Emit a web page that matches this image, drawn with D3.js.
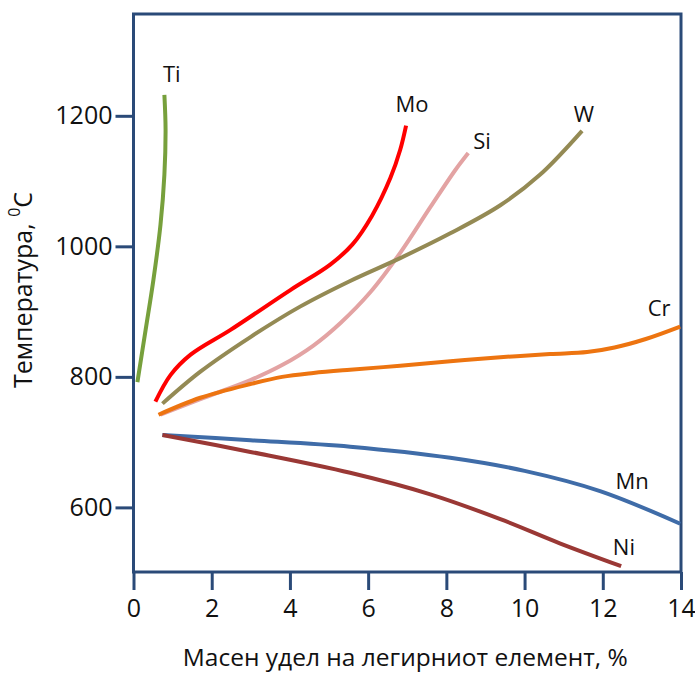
<!DOCTYPE html>
<html>
<head>
<meta charset="utf-8">
<script src="https://cdn.jsdelivr.net/npm/d3@7"></script>
<style>
body { margin:0; background:#fff; }
svg text { font-family:'Open Sans', sans-serif; fill:#111; }
</style>
</head>
<body>
<div id="chart"></div>
<script>
// alloying element mass fraction (%) vs temperature (C)
var elements = ['Ti','Mo','Si','W','Cr','Mn','Ni']
var colors = ['#77a03c','#ff0000','#e3a3a3','#948a54','#ed7410','#3f6ca8','#9a3835']
var tiPts = [[0.10,792],[0.31,872],[0.51,949],[0.69,1033],[0.79,1110],[0.82,1179],[0.79,1232]]
var moPts = [[0.56,762],[0.95,803],[1.46,834],[2.48,872],[4.01,933],[5.03,972],[5.6,1003],[6.1,1047],[6.57,1105],[6.82,1148],[6.97,1185]]
var siPts = [[0.69,742],[1.71,766],[2.99,795],[3.8,818],[4.6,848],[5.3,883],[6.06,930],[6.82,990],[7.59,1060],[8.23,1117],[8.56,1143]]
var wPts = [[0.74,759],[1.71,808],[2.99,861],[4.27,908],[5.54,947],[6.82,982],[8.1,1020],[9.38,1063],[10.4,1110],[11.47,1177]]
var crPts = [[0.64,742],[1.71,768],[2.99,789],[3.8,800],[4.6,806],[5.54,811],[6.82,817],[8.1,824],[9.38,830],[10.65,835],[11.6,838],[12.3,845],[13.1,858],[13.98,877]]
var mnPts = [[0.74,711],[2.99,703],[5.54,693],[8.1,676],[10.0,656],[11.93,625],[13.98,575]]
var niPts = [[0.74,711],[2.99,685],[5.54,653],[7.59,620],[9.38,582],[10.9,545],[12.47,510]]
var series = [tiPts,moPts,siPts,wPts,crPts,mnPts,niPts]
// where each element name sits, in data units
var labelPos = [[0.98,1266],[7.12,1220],[8.91,1163],[11.52,1205],[13.44,907],[12.75,642],[12.54,541]]
var xTicks = [0,2,4,6,8,10,12,14]
var yTicks = [600,800,1000,1200]

var width = 695, height = 673
var axisColor = '#2a4a78'

var svg = d3.select('#chart').append('svg')
	.attr('width',width)
	.attr('height',height)

var x = d3.scaleLinear().domain([0,14]).range([133.5,681])
var y = d3.scaleLinear().domain([501,1356]).range([572,14])

// frame
svg.append('rect')
	.attr('x',x(0))
	.attr('y',y(1356))
	.attr('width',x(14)-x(0))
	.attr('height',y(501)-y(1356))
	.attr('fill','none')
	.attr('stroke',axisColor)
	.attr('stroke-width',3)

var xAxis = svg.append('g')
	.attr('transform','translate(0,'+y(501)+')')
	.call(d3.axisBottom(x).tickValues(xTicks).tickSize(18).tickPadding(9).tickFormat(d3.format('d')))
xAxis.select('.domain').remove()
xAxis.selectAll('line').attr('stroke',axisColor).attr('stroke-width',3)
xAxis.selectAll('text').style('font-size','25px').attr('fill','#111')

var yAxis = svg.append('g')
	.attr('transform','translate('+x(0)+',0)')
	.call(d3.axisLeft(y).tickValues(yTicks).tickSize(18).tickPadding(3).tickFormat(d3.format('d')))
yAxis.select('.domain').remove()
yAxis.selectAll('line').attr('stroke',axisColor).attr('stroke-width',3)
yAxis.selectAll('text').style('font-size','25px').attr('fill','#111')

var line = d3.line()
	.x(function(d){ return x(d[0]) })
	.y(function(d){ return y(d[1]) })
	.curve(d3.curveCatmullRom.alpha(0.5))

svg.append('g').selectAll('path')
	.data(series)
	.enter()
	.append('path')
	.attr('d',line)
	.attr('fill','none')
	.attr('stroke',function(d,i){ return colors[i] })
	.attr('stroke-width',4)
	.attr('stroke-linecap','butt')

svg.append('g').selectAll('text')
	.data(elements)
	.enter()
	.append('text')
	.text(function(d){ return d })
	.attr('x',function(d,i){ return x(labelPos[i][0]) })
	.attr('y',function(d,i){ return y(labelPos[i][1]) })
	.attr('text-anchor','middle')
	.attr('dominant-baseline','central')
	.style('font-size','22px')

svg.append('text')
	.attr('x',(x(0)+x(14))/2 - 2)
	.attr('y',666)
	.attr('text-anchor','middle')
	.style('font-size','24.5px')
	.text('Масен удел на легирниот елемент, %')

var yTitle = svg.append('text')
	.attr('transform','translate(22,290) rotate(-90)')
	.attr('text-anchor','middle')
	.attr('dominant-baseline','central')
	.style('font-size','25px')
yTitle.append('tspan').text('Температура, ')
yTitle.append('tspan').attr('dy',-8).style('font-size','16px').text('0')
yTitle.append('tspan').attr('dy',8).text('C')
</script>
</body>
</html>
